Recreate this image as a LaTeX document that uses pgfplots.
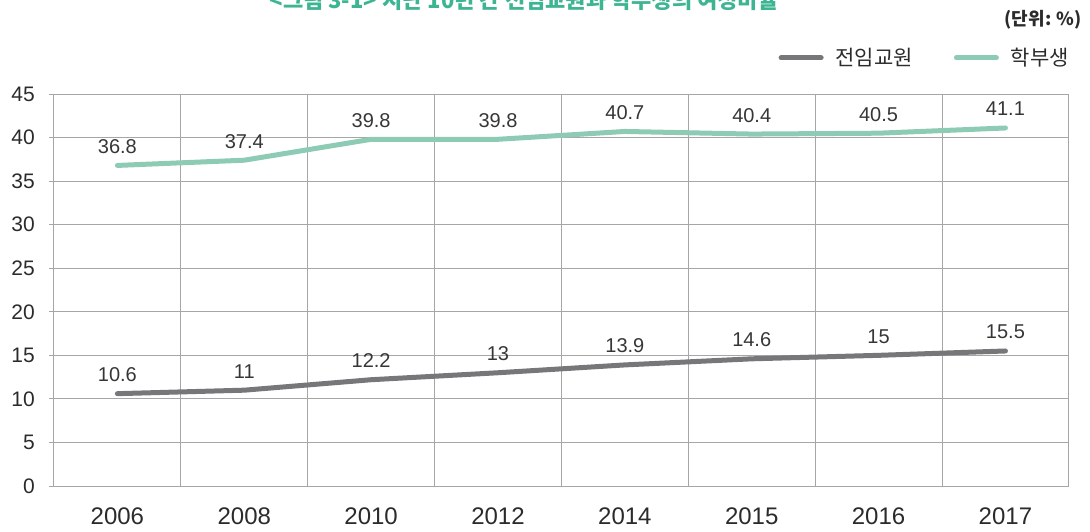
\documentclass[border=0pt]{standalone}
\usepackage{fontspec}
\setmainfont{Liberation Sans}
\newfontfamily\kr{Noto Sans CJK KR}
\usepackage{pgfplots}
\pgfplotsset{compat=1.18}
\definecolor{cTitle}{HTML}{3DB592}
\definecolor{cGreen}{HTML}{8DCBB5}
\definecolor{cGray}{HTML}{77777A}
\definecolor{cGrid}{HTML}{A6A6A6}
\definecolor{cText}{HTML}{2B2B2B}
\definecolor{cLabel}{HTML}{363636}

\begin{document}
\begin{tikzpicture}[x=1pt,y=1pt]
\path[use as bounding box] (0,0) rectangle (1090,531);
\node[anchor=base, inner sep=0pt, text=cTitle, font=\kr\bfseries\fontsize{22}{26}\selectfont]
  at (524,522) {<그림 3-1> 지난 10년 간 전임교원과 학부생의 여성비율};
\node[anchor=east, inner sep=0pt, text=cText, font=\kr\bfseries\fontsize{18}{22}\selectfont]
  at (1082,511) {(단위: \%)};

\begin{axis}[
  at={(117.4pt,45pt)}, anchor=origin,
  scale only axis, width=1015pt, height=392pt,
  xmin=-0.5, xmax=7.5, ymin=0, ymax=45,
  xtick={0,...,7},
  xticklabels={2006,2008,2010,2012,2014,2015,2016,2017},
  minor xtick={0.5,1.5,...,6.5},
  ytick={0,5,...,45},
  /pgf/number format/assume math mode=true,
  xminorgrids, ymajorgrids,
  grid style={cGrid, line width=1pt},
  minor grid style={cGrid, line width=1pt},
  axis line style={cGrid, line width=1pt},
  tick align=outside, tick pos=left,
  major tick length=5pt, minor tick length=0pt,
  xtick style={draw=none},
  ytick style={cGrid, line width=1pt},
  yticklabel style={font=\fontsize{21}{24}\selectfont, text=cText, inner sep=0pt, xshift=-14pt},
  xticklabel style={font=\fontsize{24}{28}\selectfont, text=cText, inner sep=0pt, yshift=-17pt},
  nodes near coords={\pgfmathprintnumber[assume math mode=true]{\pgfplotspointmeta}},
  every node near coord/.append style={anchor=base, yshift=12pt, inner sep=0pt,
    font=\fontsize{20}{24}\selectfont, text=cLabel},
  legend image code/.code={\draw[#1, line width=5pt] (0pt,0pt) -- (40pt,0pt);},
  legend columns=2,
  legend style={at={(axis description cs:1,1)}, anchor=east, yshift=36pt,
    draw=none, fill=none, inner sep=0pt, outer sep=0pt,
    font=\kr\fontsize{21}{24}\selectfont, text=cText,
    nodes={inner sep=0pt},
    /tikz/every odd column/.style={column sep=12pt},
    /tikz/every even column/.style={column sep=41pt}},
]
\addplot[cGray, line width=5pt, line cap=round, line join=round] coordinates {
  (0,10.6)(1,11)(2,12.2)(3,13)(4,13.9)(5,14.6)(6,15)(7,15.5)
};
\addlegendentry{전임교원}
\addplot[cGreen, line width=5pt, line cap=round, line join=round] coordinates {
  (0,36.8)(1,37.4)(2,39.8)(3,39.8)(4,40.7)(5,40.4)(6,40.5)(7,41.1)
};
\addlegendentry{학부생}
\end{axis}
\end{tikzpicture}
\end{document}
